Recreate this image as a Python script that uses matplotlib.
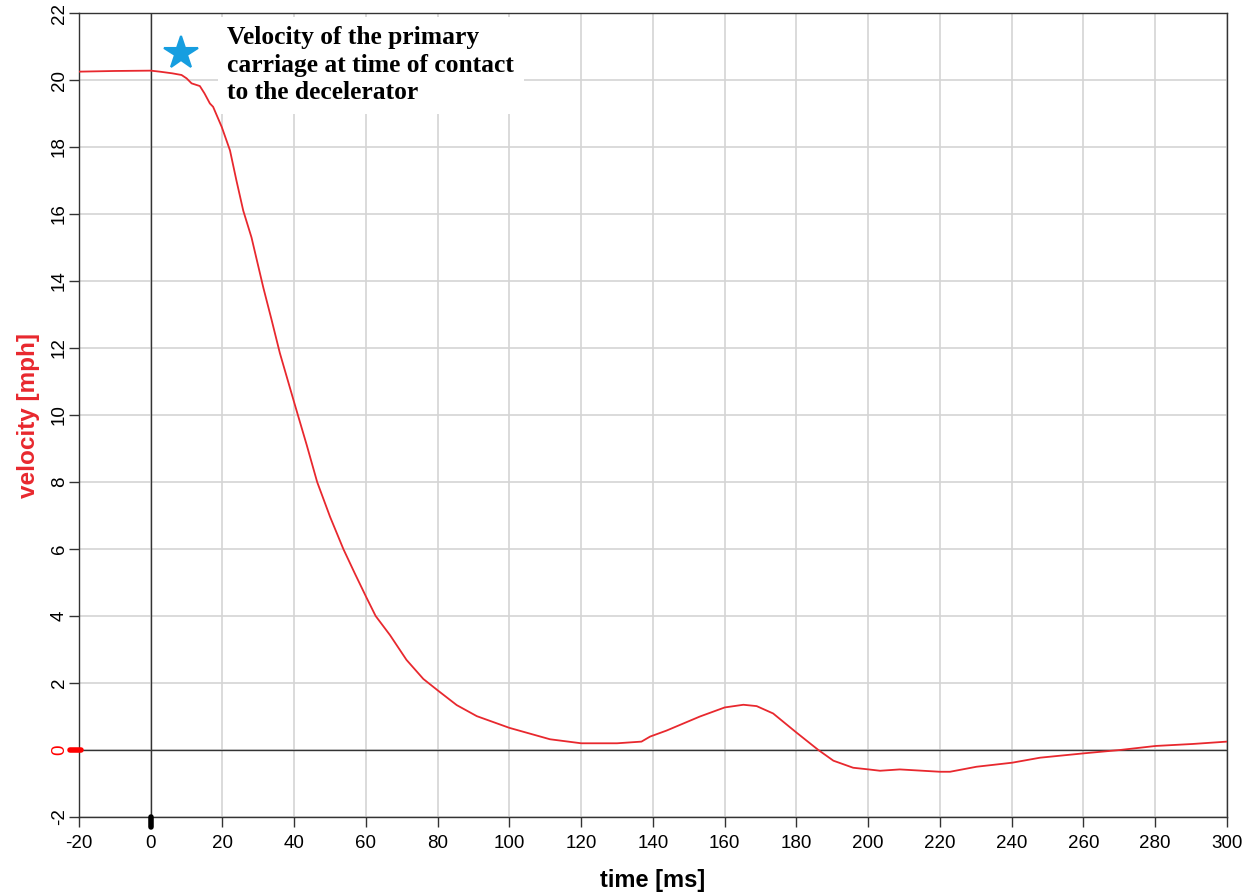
import matplotlib
matplotlib.use("Agg")
import matplotlib.pyplot as plt
import numpy as np

plt.rcParams["axes.unicode_minus"] = False

# velocity trace (time in ms, velocity in mph)
time_ms = [-20, -10, 0, 2.5, 6, 8.6, 10, 11.4, 13.7, 15, 16.5, 17.4, 19.8,
           22.1, 23.9, 25.8, 28.1, 31.4, 33.7, 36.0, 40.2, 43.5, 46.4, 50.0,
           53.7, 56.9, 60.1, 62.7, 66.7, 71.3, 76.0, 80.0, 85.3, 90.9, 100.0,
           111.3, 120, 125.2, 130, 136.8, 139.2, 143.8, 153.1, 160, 165.2,
           168.9, 173.5, 180, 186.1, 190.3, 195.8, 200.1, 203.3, 208.8,
           212, 220, 222.8, 230.2, 240.1, 247.9, 260.1, 270.2, 280.1, 290.5,
           300]
velocity_mph = [20.25, 20.27, 20.28, 20.25, 20.2, 20.15, 20.05, 19.9, 19.82,
                19.6, 19.3, 19.2, 18.6, 17.9, 17.0, 16.1, 15.3, 13.8, 12.84,
                11.85, 10.3, 9.1, 8.0, 6.96, 6.0, 5.27, 4.56, 4.0, 3.43, 2.69,
                2.12, 1.78, 1.34, 1.01, 0.66, 0.32, 0.2, 0.2, 0.2, 0.25, 0.4,
                0.58, 1.0, 1.27, 1.35, 1.31, 1.09, 0.52, 0.0, -0.32, -0.53,
                -0.58, -0.62, -0.58, -0.6, -0.65, -0.65, -0.5, -0.38, -0.23,
                -0.1, 0.0, 0.12, 0.18, 0.25]

contact_time = 8.4
contact_velocity = 20.8
note = "Velocity of the primary\ncarriage at time of contact\nto the decelerator"

x_ticks = list(range(-20, 301, 20))
y_ticks = list(range(-2, 23, 2))

red = "#e8282e"
blue = "#169ee0"

fig = plt.figure(figsize=(12.51, 8.92), dpi=100)
ax = fig.add_axes([0.0631, 0.0841, 0.9177, 0.9013])

ax.set_xlim(-20, 300)
ax.set_ylim(-2, 22)
ax.set_xticks(x_ticks)
ax.set_yticks(y_ticks)
ax.grid(True, color="#d4d4d4", lw=1.2)
ax.set_axisbelow(True)

ax.axhline(0, color="#333333", lw=1.0, zorder=2)
ax.axvline(0, color="#333333", lw=1.0, zorder=2)

ax.plot(time_ms, velocity_mph, color=red, lw=1.3, zorder=3)

# little markers outside the frame at the zero lines
ax.plot([-0.008, 0.0015], [0, 0], transform=ax.get_yaxis_transform(),
        color="red", lw=4, solid_capstyle="round", clip_on=False, zorder=5)
ax.plot([0, 0], [-0.012, 0.0], transform=ax.get_xaxis_transform(),
        color="black", lw=4, solid_capstyle="round", clip_on=False, zorder=5)

for side in ax.spines.values():
    side.set_color("#333333")
    side.set_linewidth(1.0)

ax.tick_params(axis="both", direction="out", length=7, width=1,
               color="#333333", labelsize=13.5)
ax.tick_params(axis="x", pad=6)
ax.tick_params(axis="y", pad=1)
for lab in ax.get_xticklabels() + ax.get_yticklabels():
    lab.set_family("Liberation Sans")
for lab in ax.get_yticklabels():
    lab.set_rotation(90)
    lab.set_va("center")
    if lab.get_text() == "0":
        lab.set_color("red")

ax.set_xlabel("time [ms]", fontsize=17, fontweight="bold",
              family="Liberation Sans", labelpad=12)
ax.set_ylabel("velocity [mph]", fontsize=17.5, fontweight="bold",
              family="Liberation Sans", color=red, labelpad=8)

ax.plot([contact_time], [contact_velocity], marker="*", markersize=25,
        color=blue, markeredgewidth=1.5, markeredgecolor=blue,
        linestyle="none", zorder=6)
ax.text(21.4, 21.6, note, ha="left", va="top", fontsize=18.4,
        fontweight="bold", family="Liberation Serif", linespacing=1.25,
        zorder=4, bbox=dict(facecolor="white", edgecolor="none", pad=7))

fig.savefig("out.png", dpi=100)
